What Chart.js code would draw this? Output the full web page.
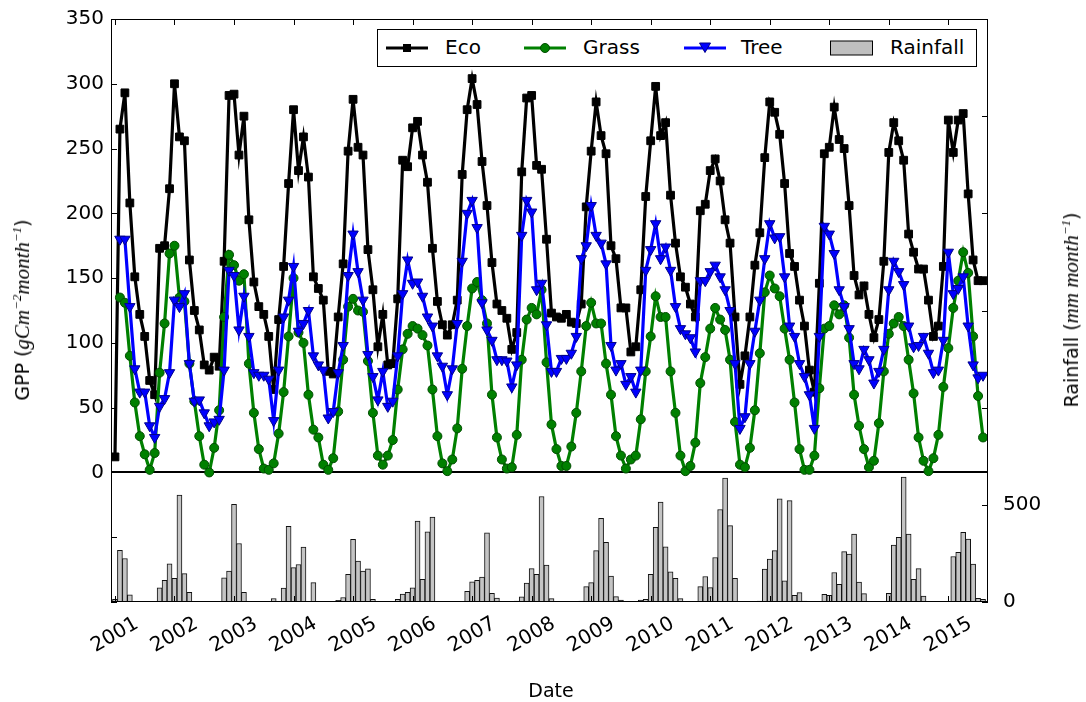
<!DOCTYPE html>
<html>
<head>
<meta charset="utf-8">
<title>GPP and rainfall</title>
<script src="https://cdn.jsdelivr.net/npm/chart.js@4.4.1/dist/chart.umd.min.js"></script>
<style>
  body { margin: 0; background: #fff; }
  #wrap { position: relative; width: 1086px; height: 702px; font-family: 'DejaVu Sans', sans-serif; color: #000; }
  #wrap canvas { position: absolute; left: 0; top: 0; }
  .title { position: absolute; white-space: nowrap; font-size: 19px; transform: translate(-50%, -50%); }
  .vert { transform: translate(-50%, -50%) rotate(-90deg); }
  .math { font-family: 'Liberation Serif', serif; font-style: italic; font-size: 21px; }
  .math sup { font-size: 13px; }
  #legend { position: absolute; left: 377px; top: 29px; width: 598px; height: 36px; border: 1px solid #000; background: #fff; font-size: 20px; }
  #legend .sym { position: absolute; top: 8px; }
  #legend .lab { position: absolute; top: 5px; }
</style>
</head>
<body>
<div id="wrap">
  <canvas id="gppChart" width="1086" height="702"></canvas>
  <div id="legend">
    <svg class="sym" style="left:8px" width="42" height="20"><line x1="0" y1="10" x2="42" y2="10" stroke="#000" stroke-width="3"/><rect x="17" y="6" width="8" height="8" fill="#000"/></svg>
    <span class="lab" style="left:67px">Eco</span>
    <svg class="sym" style="left:146px" width="42" height="20"><line x1="0" y1="10" x2="42" y2="10" stroke="#008000" stroke-width="3"/><circle cx="21" cy="10" r="4.5" fill="#008000" stroke="#004d00" stroke-width="1"/></svg>
    <span class="lab" style="left:205px">Grass</span>
    <svg class="sym" style="left:306px" width="42" height="20"><line x1="0" y1="10" x2="42" y2="10" stroke="#0000ff" stroke-width="3"/><polygon points="15.5,5 26.5,5 21,14.5" fill="#0000ff" stroke="#00008a" stroke-width="1"/></svg>
    <span class="lab" style="left:363px">Tree</span>
    <svg class="sym" style="left:452px" width="44" height="20"><rect x="0.5" y="3" width="42" height="14" fill="#bfbfbf" stroke="#000" stroke-width="1"/></svg>
    <span class="lab" style="left:512px">Rainfall</span>
  </div>
  <div class="title vert" style="left:22px; top:310px">GPP (<span class="math">gCm<sup>−2</sup>month<sup>−1</sup></span>)</div>
  <div class="title vert" style="left:1071px; top:310px">Rainfall (<span class="math">mm month<sup>−1</sup></span>)</div>
  <div class="title" style="left:551px; top:690px">Date</div>
</div>
<script>
// monthly series, Jan 2001 .. Aug 2015 (one row per year)
const yearLabels = ['2001', '2002', '2003', '2004', '2005', '2006', '2007', '2008',
  '2009', '2010', '2011', '2012', '2013', '2014', '2015'];

const eco = [
  12, 265, 293, 208, 151, 122, 105, 71, 60, 173, 175, 219,
  300, 259, 256, 164, 125, 110, 83, 79, 89, 82, 163, 291,
  292, 245, 275, 195, 147, 128, 122, 105, 64, 118, 159, 223,
  280, 233, 259, 228, 151, 142, 133, 78, 76, 120, 161, 248,
  288, 251, 245, 172, 141, 97, 122, 83, 84, 134, 241, 236,
  266, 271, 245, 224, 173, 132, 114, 106, 114, 133, 230, 280,
  304, 284, 240, 206, 162, 130, 125, 119, 95, 108, 232, 289,
  291, 237, 234, 180, 123, 120, 119, 122, 116, 115, 130, 205,
  248, 286, 260, 246, 175, 165, 127, 127, 93, 97, 141, 213,
  256, 298, 260, 270, 214, 177, 151, 143, 130, 120, 202, 207,
  233, 242, 225, 195, 177, 120, 68, 90, 120, 160, 185, 243,
  286, 278, 261, 223, 169, 159, 133, 113, 79, 62, 146, 246,
  251, 282, 257, 250, 206, 152, 137, 144, 122, 104, 118, 163,
  247, 270, 256, 241, 184, 170, 157, 157, 133, 105, 113, 159,
  272, 247, 272, 277, 215, 164, 148, 148
];

const grass = [
  null, 135, 131, 90, 54, 28, 14, 2, 15, 77, 115, 169,
  175, 135, 132, 84, 55, 28, 6, 0, 19, 48, 120, 168,
  160, 148, 153, 84, 46, 18, 3, 2, 7, 30, 62, 105,
  150, 108, 100, 60, 33, 27, 6, 2, 11, 47, 87, 128,
  134, 125, 124, 86, 46, 13, 6, 13, 25, 64, 95, 107,
  113, 111, 106, 98, 64, 28, 7, 1, 10, 34, 80, 113,
  142, 147, 133, 115, 60, 27, 10, 3, 4, 29, 87, 118,
  127, 122, 141, 85, 37, 18, 5, 5, 20, 46, 78, 113,
  131, 115, 115, 84, 60, 28, 13, 3, 10, 13, 41, 78,
  105, 136, 120, 120, 78, 46, 13, 1, 5, 23, 69, 89,
  111, 127, 118, 110, 87, 39, 6, 4, 19, 48, 92, 139,
  152, 142, 136, 111, 87, 54, 18, 2, 2, 13, 65, 111,
  113, 129, 122, 129, 104, 60, 36, 18, 4, 9, 38, 78,
  107, 115, 120, 113, 87, 61, 27, 9, 1, 11, 29, 66,
  96, 127, 148, 170, 154, 105, 59, 27
];

const tree = [
  null, 180, 180, 128, 80, 62, 62, 36, 27, 51, 57, 77,
  133, 128, 138, 84, 55, 56, 46, 36, 39, 41, 79, 156,
  152, 110, 136, 105, 77, 75, 75, 72, 40, 79, 120, 133,
  159, 109, 115, 125, 90, 83, 79, 42, 47, 77, 98, 152,
  184, 155, 133, 91, 74, 56, 78, 51, 55, 90, 138, 164,
  146, 147, 136, 120, 113, 90, 82, 60, 80, 115, 163, 200,
  210, 189, 131, 110, 102, 87, 87, 86, 66, 83, 183, 210,
  201, 141, 146, 114, 78, 78, 88, 88, 92, 105, 165, 175,
  206, 183, 177, 161, 98, 79, 84, 68, 74, 62, 79, 156,
  172, 192, 165, 174, 156, 128, 111, 107, 104, 93, 148, 148,
  155, 160, 151, 141, 125, 84, 34, 43, 84, 109, 133, 165,
  192, 181, 182, 151, 113, 105, 84, 74, 60, 34, 105, 190,
  184, 169, 141, 128, 111, 84, 80, 95, 87, 69, 78, 95,
  141, 163, 155, 145, 113, 97, 98, 105, 92, 77, 79, 102,
  170, 138, 142, 151, 113, 83, 73, 75
];

const rainfall = [
  14, 266, 224, 37, 0, 0, 0, 0, 2, 73, 111, 197,
  122, 550, 146, 50, 0, 0, 0, 0, 0, 2, 125, 159,
  502, 301, 50, 0, 0, 3, 0, 3, 18, 0, 71, 390,
  177, 193, 283, 2, 100, 0, 0, 0, 0, 9, 23, 142,
  322, 211, 159, 171, 14, 0, 2, 0, 2, 14, 41, 50,
  73, 416, 117, 361, 437, 0, 0, 0, 0, 0, 0, 55,
  104, 111, 128, 356, 44, 20, 0, 0, 0, 5, 26, 98,
  172, 143, 543, 190, 17, 0, 0, 0, 0, 0, 5, 79,
  100, 264, 431, 307, 134, 28, 10, 0, 0, 0, 10, 14,
  143, 384, 514, 284, 155, 122, 17, 0, 2, 0, 79, 131,
  74, 229, 476, 638, 393, 122, 0, 0, 0, 2, 5, 169,
  221, 264, 531, 109, 522, 34, 48, 5, 0, 0, 0, 40,
  34, 152, 91, 259, 247, 350, 103, 43, 0, 0, 2, 2,
  45, 293, 333, 643, 350, 117, 172, 31, 0, 0, 0, 0,
  2, 234, 255, 359, 324, 195, 19, 14
];

const toPoints = arr => arr.map((v, i) => ({ x: i, y: v }));

// frame round the plot and small inward ticks, like the matplotlib original
const frameTicks = {
  id: 'frameTicks',
  afterDraw(chart) {
    const { ctx, chartArea: a, scales } = chart;
    const len = 6;
    ctx.save();
    ctx.strokeStyle = '#000';
    ctx.lineWidth = 1;
    ctx.strokeRect(a.left + 0.5, a.top + 0.5, a.right - a.left - 1, a.bottom - a.top - 1);
    ctx.beginPath();
    scales.y.ticks.forEach(t => {
      const p = Math.round(scales.y.getPixelForValue(t.value)) + 0.5;
      ctx.moveTo(a.left, p); ctx.lineTo(a.left + len, p);
    });
    scales.y2.ticks.forEach(t => {
      const p = Math.round(scales.y2.getPixelForValue(t.value)) + 0.5;
      ctx.moveTo(a.right, p); ctx.lineTo(a.right - len, p);
    });
    scales.x.ticks.forEach(t => {
      const p = Math.round(scales.x.getPixelForValue(t.value)) + 0.5;
      ctx.moveTo(p, a.bottom); ctx.lineTo(p, a.bottom - len);
      ctx.moveTo(p, a.top); ctx.lineTo(p, a.top + len);
    });
    ctx.stroke();
    ctx.restore();
  }
};

Chart.defaults.font.family = "'DejaVu Sans', sans-serif";
Chart.defaults.color = '#000';

const ctx = document.getElementById('gppChart').getContext('2d');
new Chart(ctx, {
  type: 'bar',
  data: {
    datasets: [
      {
        type: 'line', label: 'Tree', data: toPoints(tree), yAxisID: 'y', order: 1,
        borderColor: '#0000ff', borderWidth: 3.2, tension: 0,
        pointStyle: 'triangle', pointRotation: 180, pointRadius: 6,
        pointBackgroundColor: '#0000ff', pointBorderColor: '#00008a', pointBorderWidth: 1
      },
      {
        type: 'line', label: 'Grass', data: toPoints(grass), yAxisID: 'y', order: 2,
        borderColor: '#008000', borderWidth: 3.2, tension: 0,
        pointStyle: 'circle', pointRadius: 4.5,
        pointBackgroundColor: '#008000', pointBorderColor: '#004d00', pointBorderWidth: 1
      },
      {
        type: 'line', label: 'Eco', data: toPoints(eco), yAxisID: 'y', order: 3,
        borderColor: '#000000', borderWidth: 3.2, tension: 0,
        pointStyle: 'rect', pointRadius: 5.5,
        pointBackgroundColor: '#000000', pointBorderColor: '#000000', pointBorderWidth: 1
      },
      {
        type: 'bar', label: 'Rainfall', data: toPoints(rainfall), yAxisID: 'y2', order: 4,
        backgroundColor: '#c4c4c4', borderColor: '#111', borderWidth: 1,
        barThickness: 5
      }
    ]
  },
  options: {
    responsive: false,
    animation: false,
    events: [],
    layout: { padding: { top: 18, left: 0, right: 0, bottom: 0 } },
    plugins: { legend: { display: false }, tooltip: { enabled: false } },
    scales: {
      x: {
        type: 'linear', min: -0.8, max: 176, offset: false,
        grid: { display: false }, border: { display: false },
        afterBuildTicks: s => { s.ticks = yearLabels.map((_, k) => ({ value: k * 12 })); },
        ticks: {
          autoSkip: false, minRotation: 30, maxRotation: 30, labelOffset: 22, padding: 2,
          font: { size: 20 }, color: '#000',
          callback: (v, k) => yearLabels[k]
        },
        afterFit: s => { s.height = 100; }
      },
      y: {
        position: 'left', min: -100, max: 350,
        border: { display: false },
        grid: {
          drawTicks: false, lineWidth: 2,
          color: c => (c.tick && c.tick.value === 0 ? '#000' : 'rgba(0,0,0,0)')
        },
        ticks: { stepSize: 50, padding: 7, font: { size: 20 }, color: '#000', callback: v => (v >= 0 ? v : '') },
        afterFit: s => { s.width = 111; }
      },
      y2: {
        position: 'right', min: 0, max: 3000,
        border: { display: false },
        grid: { display: false },
        ticks: { stepSize: 500, padding: 7, font: { size: 20 }, color: '#000', callback: v => (v <= 500 ? v : '') },
        afterFit: s => { s.width = 98; }
      }
    }
  },
  plugins: [frameTicks]
});
</script>
</body>
</html>
